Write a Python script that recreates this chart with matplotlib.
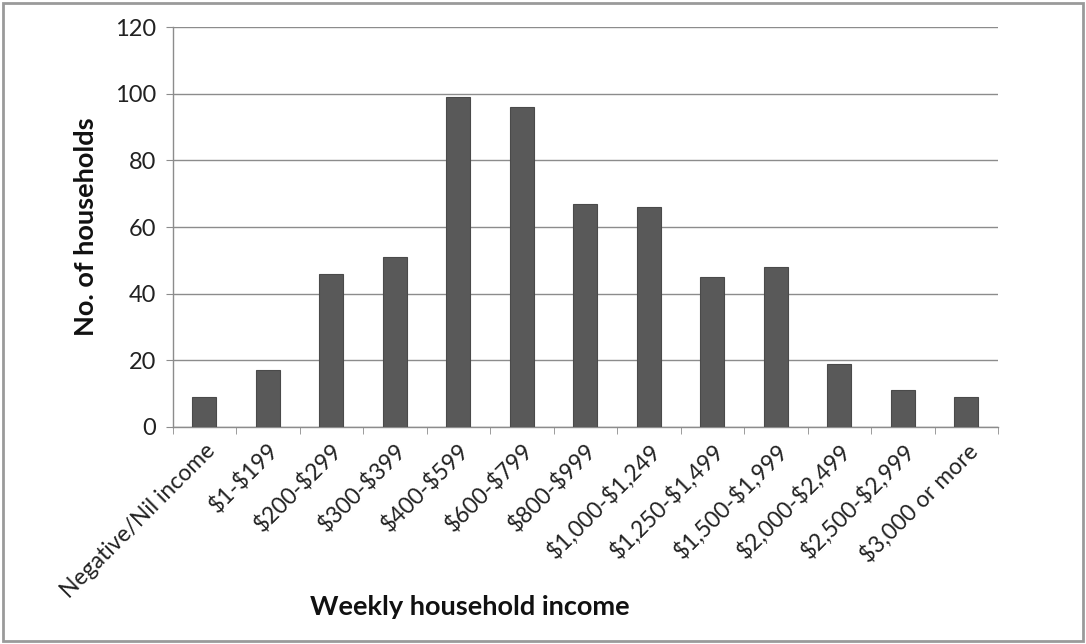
import numpy as np
import matplotlib.pyplot as plt
from matplotlib.patches import Rectangle

categories = ['Negative/Nil income', '$1-$199', '$200-$299', '$300-$399', '$400-$599',
              '$600-$799', '$800-$999', '$1,000-$1,249', '$1,250-$1,499', '$1,500-$1,999',
              '$2,000-$2,499', '$2,500-$2,999', '$3,000 or more']
households = [9, 17, 46, 51, 99, 96, 67, 66, 45, 48, 19, 11, 9]
y_ticks = [0, 20, 40, 60, 80, 100, 120]

plt.rcParams['font.family'] = ['Lato', 'DejaVu Sans']

fig = plt.figure(figsize=(10.86, 6.44), dpi=100)
ax = fig.add_axes([0.159, 0.337, 0.760, 0.621])

x = np.arange(len(categories))
ax.bar(x, households, width=0.38, color='#595959', edgecolor='#4a4a4a', linewidth=0.8, zorder=3)

ax.set_xlim(-0.5, len(categories) - 0.5)
ax.set_ylim(0, 120)
ax.set_yticks(y_ticks)
ax.yaxis.grid(True, color='#8c8c8c', linewidth=1.0, zorder=0)

# category labels sit at the bar centres, tick marks sit between categories
ax.set_xticks(x)
ax.set_xticklabels(categories, rotation=45, ha='right', rotation_mode='anchor',
                   fontsize=16.5, color='#222222', parse_math=False)
ax.set_xticks(np.arange(-0.5, len(categories)), minor=True)
ax.tick_params(axis='x', which='major', length=0, pad=9)
ax.tick_params(axis='x', which='minor', length=5, color='#8c8c8c', direction='out')
ax.tick_params(axis='y', length=5, color='#8c8c8c', labelsize=17, labelcolor='#222222', pad=7)

for side in ['top', 'right']:
    ax.spines[side].set_visible(False)
for side in ['left', 'bottom']:
    ax.spines[side].set_color('#8c8c8c')
    ax.spines[side].set_linewidth(1.0)

ax.set_ylabel('No. of households', fontsize=19.5, fontweight='bold', color='#111111', labelpad=12)
fig.text(0.433, 0.045, 'Weekly household income', fontsize=19.5, fontweight='bold', color='#111111', ha='center')

fig.patches.append(Rectangle((0.003, 0.004), 0.994, 0.992, transform=fig.transFigure,
                             fill=False, edgecolor='#9a9a9a', linewidth=2.0))

fig.savefig('out.png', dpi=100)
